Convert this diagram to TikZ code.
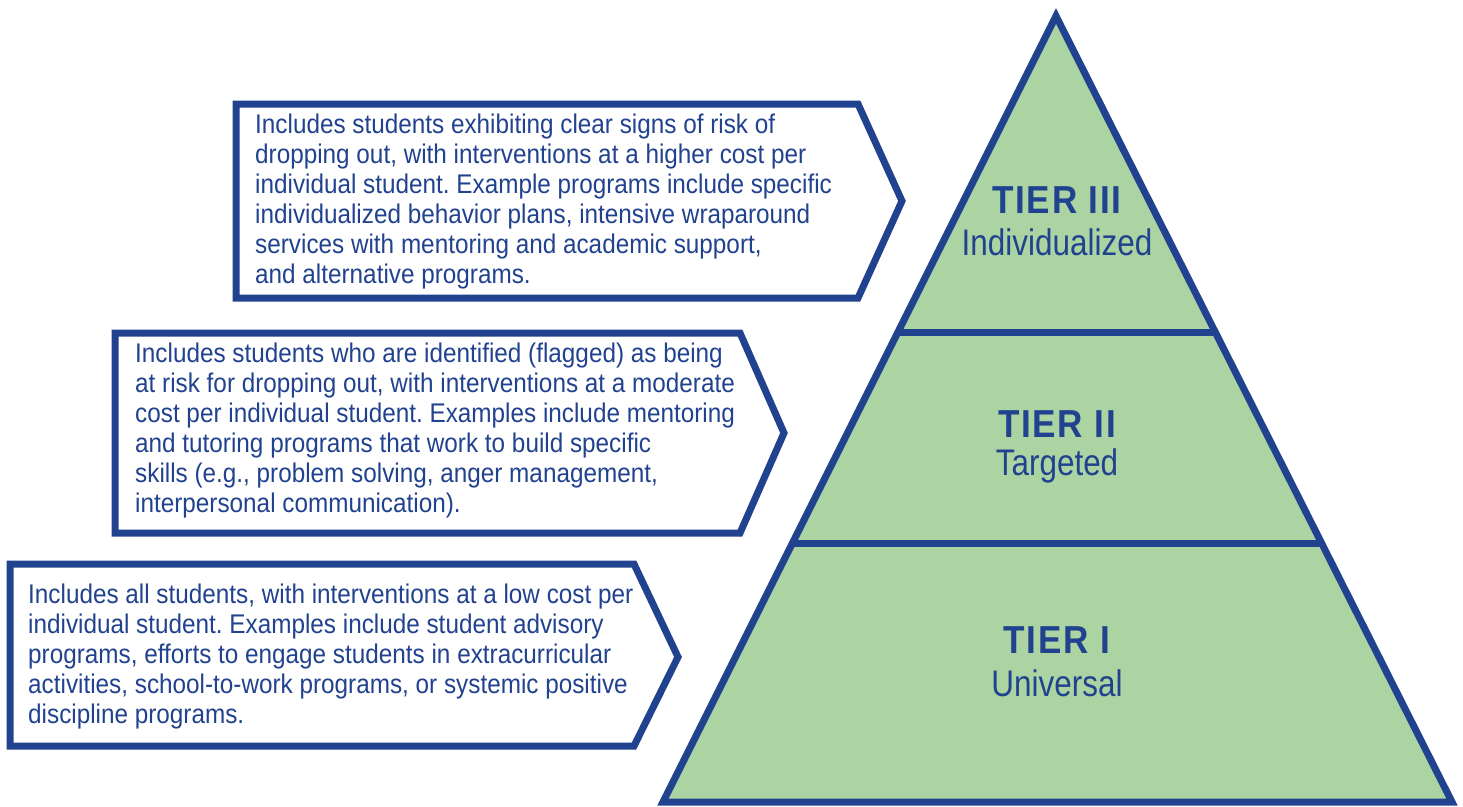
\documentclass[tikz,border=0pt]{standalone}
\usepackage{fontspec}
\setmainfont[FakeStretch=0.9]{Liberation Sans}
\newfontfamily\tierboldfont[FakeStretch=0.9,LetterSpace=4.5]{Liberation Sans}
\newfontfamily\tiersubfont[FakeStretch=0.85]{Liberation Sans}
\definecolor{tierblue}{RGB}{33,66,143}
\definecolor{tiergreen}{RGB}{172,212,162}
\frenchspacing
\begin{document}
\begin{tikzpicture}[x=1pt,y=-1pt,
  boxline/.style={draw=tierblue,line width=7pt,fill=white,line join=miter},
  boxtext/.style={anchor=west,align=left,inner sep=0pt,text=tierblue,font=\fontsize{27}{30}\selectfont},
  tiername/.style={text=tierblue,inner sep=0pt,font=\tierboldfont\bfseries\fontsize{39}{40}\selectfont},
  tiersub/.style={text=tierblue,inner sep=0pt,font=\tiersubfont\fontsize{37}{40}\selectfont}]
\useasboundingbox (0,0) rectangle (1463,806);
% pyramid
\coordinate (apex) at (1056,16);
\coordinate (bl) at (663,802);
\coordinate (br) at (1452,802);
\fill[tiergreen] (apex) -- (bl) -- (br) -- cycle;
\begin{scope}
\clip (apex) -- (bl) -- (br) -- cycle;
\draw[tierblue,line width=7pt] (600,332) -- (1500,332);
\draw[tierblue,line width=7pt] (600,543) -- (1500,543);
\end{scope}
\draw[tierblue,line width=7pt,line join=miter,miter limit=10] (apex) -- (bl) -- (br) -- cycle;
\node[tiername] (t3) at (1057,200) {TIER III};
\node[tiersub] (s3) at (1057,242) {Individualized};
\node[tiername] (t2) at (1057,424) {TIER II};
\node[tiersub] (s2) at (1057,466) {Targeted};
\node[tiername] (t1) at (1057,640) {TIER I};
\node[tiersub] (s1) at (1057,683) {Universal};
% boxes
\draw[boxline] (236,104) -- (858,104) -- (902,201) -- (858,298) -- (236,298) -- cycle;
\node[boxtext] (b3) at (255,202) {Includes students exhibiting clear signs of risk of\\dropping out, with interventions at a higher cost per\\individual student. Example programs include specific\\individualized behavior plans, intensive wraparound\\services with mentoring and academic support,\\and alternative programs.};
\draw[boxline] (115,333) -- (740,333) -- (784,433) -- (740,533) -- (115,533) -- cycle;
\node[boxtext] (b2) at (135,431) {Includes students who are identified (flagged) as being\\at risk for dropping out, with interventions at a moderate\\cost per individual student. Examples include mentoring\\and tutoring programs that work to build specific\\skills (e.g., problem solving, anger management,\\interpersonal communication).};
\draw[boxline] (10,564) -- (634,564) -- (678,657) -- (634,746) -- (10,746) -- cycle;
\node[boxtext] (b1) at (28,657) {Includes all students, with interventions at a low cost per\\individual student. Examples include student advisory\\programs, efforts to engage students in extracurricular\\activities, school-to-work programs, or systemic positive\\discipline programs.};
\end{tikzpicture}
\end{document}
